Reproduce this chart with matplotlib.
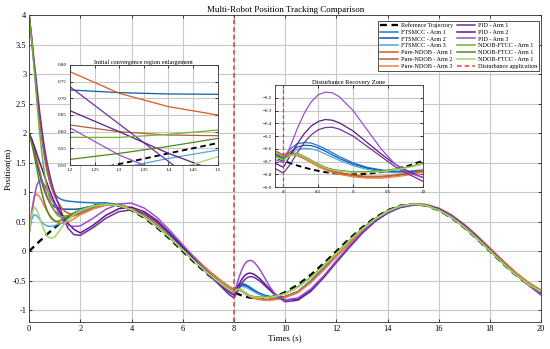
import matplotlib.pyplot as plt

plt.rcParams['font.family'] = ['Liberation Serif', 'DejaVu Serif']

# time grid (s): dense in the start transient and after the disturbance
t = [0, 0.1, 0.2, 0.3, 0.4, 0.5, 0.6, 0.7, 0.8, 0.9, 1.0, 1.1, 1.2, 1.3, 1.4, 1.5, 1.75, 2.0,
     2.5, 3.0, 3.5, 4.0, 4.5, 5.0, 5.5, 6.0, 6.5, 7.0, 7.5,
     7.8, 8.0,
     8.1, 8.2, 8.3, 8.4, 8.5, 8.6, 8.7, 8.8, 9.0, 9.2, 9.4, 9.6, 9.8, 10.0,
     10.5, 11, 11.5, 12, 12.5, 13, 13.5, 14, 14.5, 15, 15.5, 16, 16.5, 17, 17.5, 18, 18.5, 19, 19.5, 20]

ref = [0.000, 0.042, 0.084, 0.125, 0.167, 0.207, 0.247, 0.286, 0.325, 0.363, 0.400, 0.436, 0.470, 0.503, 0.535, 0.566, 0.636, 0.693,
       0.773, 0.800, 0.773, 0.693, 0.566, 0.400, 0.207, 0.000, -0.207, -0.400, -0.566,
       -0.647, -0.693,
       -0.713, -0.731, -0.747, -0.761, -0.773, -0.783, -0.790, -0.796, -0.800, -0.796, -0.783, -0.761, -0.731, -0.693,
       -0.566, -0.400, -0.207, 0.000, 0.207, 0.400, 0.566, 0.693, 0.773, 0.800, 0.773, 0.693, 0.566, 0.400, 0.207, 0.000, -0.207, -0.400, -0.566, -0.693]

ftsmcc_1 = [4.00, 3.55, 3.10, 2.65, 2.25, 1.90, 1.60, 1.35, 1.18, 1.05, 0.97, 0.92, 0.89, 0.87, 0.86, 0.85, 0.84, 0.83,
            0.82, 0.82, 0.79, 0.715, 0.595, 0.436, 0.247, 0.042, -0.166, -0.363, -0.535,
            -0.62, -0.665,
            -0.60, -0.56, -0.55, -0.555, -0.575, -0.60, -0.63, -0.66, -0.71, -0.745, -0.765, -0.775, -0.775, -0.765,
            -0.68, -0.50, -0.29, -0.07, 0.15, 0.36, 0.54, 0.68, 0.77, 0.80, 0.785, 0.715, 0.595, 0.435, 0.245, 0.04, -0.17, -0.37, -0.54, -0.67]
ftsmcc_2 = [2.00, 1.85, 1.68, 1.50, 1.32, 1.16, 1.02, 0.91, 0.83, 0.78, 0.75, 0.735, 0.725, 0.717, 0.713, 0.712, 0.71, 0.72,
            0.765, 0.80, 0.785, 0.713, 0.595, 0.436, 0.247, 0.042, -0.166, -0.363, -0.535,
            -0.625, -0.675,
            -0.625, -0.585, -0.572, -0.575, -0.592, -0.618, -0.647, -0.675, -0.72, -0.752, -0.77, -0.78, -0.782, -0.772,
            -0.685, -0.505, -0.295, -0.075, 0.145, 0.355, 0.535, 0.675, 0.765, 0.80, 0.785, 0.715, 0.595, 0.435, 0.245, 0.04, -0.17, -0.37, -0.54, -0.67]
ftsmcc_3 = [0.30, 0.55, 0.62, 0.60, 0.55, 0.49, 0.45, 0.43, 0.42, 0.425, 0.435, 0.45, 0.465, 0.49, 0.52, 0.545, 0.61, 0.67,
            0.75, 0.795, 0.785, 0.713, 0.595, 0.436, 0.247, 0.042, -0.166, -0.363, -0.535,
            -0.63, -0.685,
            -0.64, -0.605, -0.595, -0.60, -0.615, -0.64, -0.665, -0.69, -0.732, -0.762, -0.78, -0.788, -0.79, -0.78,
            -0.69, -0.51, -0.30, -0.08, 0.14, 0.35, 0.53, 0.67, 0.76, 0.795, 0.785, 0.715, 0.595, 0.435, 0.245, 0.04, -0.17, -0.37, -0.54, -0.67]

pure_ndob_1 = [4.00, 3.60, 3.15, 2.70, 2.30, 1.95, 1.65, 1.40, 1.20, 1.05, 0.93, 0.85, 0.78, 0.715, 0.675, 0.65, 0.62, 0.63,
               0.72, 0.785, 0.79, 0.731, 0.622, 0.47, 0.287, 0.084, -0.125, -0.326, -0.503,
               -0.594, -0.647,
               -0.625, -0.64, -0.665, -0.695, -0.725, -0.75, -0.77, -0.785, -0.805, -0.815, -0.815, -0.805, -0.79, -0.77,
               -0.69, -0.52, -0.31, -0.08, 0.14, 0.35, 0.53, 0.67, 0.76, 0.80, 0.79, 0.725, 0.61, 0.45, 0.26, 0.05, -0.16, -0.36, -0.53, -0.66]
pure_ndob_2 = [2.00, 1.87, 1.72, 1.55, 1.38, 1.21, 1.06, 0.93, 0.82, 0.74, 0.68, 0.645, 0.62, 0.60, 0.59, 0.588, 0.60, 0.64,
               0.735, 0.79, 0.79, 0.731, 0.622, 0.47, 0.287, 0.084, -0.125, -0.326, -0.503,
               -0.597, -0.652,
               -0.632, -0.648, -0.672, -0.702, -0.732, -0.758, -0.778, -0.792, -0.812, -0.822, -0.822, -0.812, -0.797, -0.777,
               -0.695, -0.525, -0.315, -0.085, 0.135, 0.345, 0.525, 0.665, 0.758, 0.80, 0.79, 0.725, 0.61, 0.45, 0.26, 0.05, -0.16, -0.36, -0.53, -0.665]
pure_ndob_3 = [0.30, 0.70, 0.92, 0.97, 0.93, 0.85, 0.76, 0.68, 0.61, 0.56, 0.52, 0.49, 0.48, 0.47, 0.475, 0.49, 0.55, 0.62,
               0.72, 0.78, 0.785, 0.731, 0.622, 0.47, 0.287, 0.084, -0.125, -0.326, -0.503,
               -0.60, -0.657,
               -0.638, -0.655, -0.68, -0.71, -0.74, -0.765, -0.785, -0.80, -0.82, -0.83, -0.83, -0.82, -0.805, -0.785,
               -0.70, -0.53, -0.32, -0.09, 0.13, 0.34, 0.52, 0.66, 0.755, 0.795, 0.79, 0.725, 0.61, 0.45, 0.26, 0.05, -0.16, -0.36, -0.53, -0.665]

pid_1 = [4.00, 3.62, 3.20, 2.80, 2.40, 2.05, 1.75, 1.50, 1.30, 1.12, 0.98, 0.85, 0.735, 0.623, 0.511, 0.40, 0.28, 0.27,
         0.40, 0.56, 0.67, 0.70, 0.64, 0.49, 0.29, 0.06, -0.17, -0.39, -0.60,
         -0.73, -0.79,
         -0.72, -0.63, -0.55, -0.49, -0.45, -0.433, -0.43, -0.445, -0.50, -0.58, -0.66, -0.74, -0.80, -0.855,
         -0.83, -0.68, -0.45, -0.19, 0.06, 0.30, 0.50, 0.645, 0.74, 0.78, 0.78, 0.72, 0.605, 0.44, 0.245, 0.03, -0.185, -0.39, -0.57, -0.74]
pid_2 = [2.00, 1.90, 1.78, 1.65, 1.52, 1.40, 1.27, 1.15, 1.03, 0.92, 0.82, 0.74, 0.663, 0.60, 0.535, 0.48, 0.37, 0.31,
         0.44, 0.61, 0.72, 0.745, 0.67, 0.52, 0.31, 0.08, -0.15, -0.37, -0.58,
         -0.69, -0.745,
         -0.65, -0.56, -0.48, -0.42, -0.385, -0.37, -0.375, -0.395, -0.46, -0.55, -0.64, -0.72, -0.78, -0.825,
         -0.81, -0.66, -0.43, -0.17, 0.08, 0.31, 0.51, 0.655, 0.745, 0.785, 0.78, 0.72, 0.60, 0.435, 0.24, 0.025, -0.19, -0.39, -0.57, -0.735]
pid_3 = [0.30, 0.62, 0.92, 1.12, 1.20, 1.18, 1.12, 1.04, 0.95, 0.86, 0.78, 0.70, 0.612, 0.53, 0.47, 0.44, 0.42, 0.43,
         0.56, 0.71, 0.80, 0.815, 0.73, 0.57, 0.35, 0.11, -0.13, -0.36, -0.565,
         -0.665, -0.71,
         -0.58, -0.44, -0.32, -0.23, -0.175, -0.155, -0.16, -0.19, -0.30, -0.45, -0.60, -0.72, -0.79, -0.825,
         -0.79, -0.64, -0.42, -0.16, 0.09, 0.32, 0.52, 0.66, 0.75, 0.785, 0.775, 0.71, 0.595, 0.43, 0.235, 0.02, -0.195, -0.395, -0.57, -0.725]

ndob_ftcc_1 = [4.00, 3.58, 3.10, 2.55, 2.05, 1.65, 1.32, 1.07, 0.89, 0.76, 0.67, 0.61, 0.583, 0.583, 0.592, 0.605, 0.65, 0.70,
               0.77, 0.80, 0.778, 0.703, 0.58, 0.418, 0.227, 0.021, -0.186, -0.382, -0.551,
               -0.64, -0.68,
               -0.645, -0.635, -0.66, -0.69, -0.72, -0.745, -0.76, -0.77, -0.78, -0.78, -0.775, -0.76, -0.74, -0.715,
               -0.60, -0.44, -0.24, -0.03, 0.18, 0.38, 0.55, 0.685, 0.77, 0.80, 0.775, 0.695, 0.57, 0.405, 0.21, 0.005, -0.20, -0.395, -0.56, -0.68]
ndob_ftcc_2 = [2.00, 1.83, 1.62, 1.40, 1.18, 0.98, 0.82, 0.69, 0.60, 0.54, 0.51, 0.505, 0.517, 0.535, 0.556, 0.58, 0.64, 0.69,
               0.765, 0.80, 0.778, 0.703, 0.58, 0.418, 0.227, 0.021, -0.186, -0.382, -0.551,
               -0.642, -0.685,
               -0.648, -0.638, -0.662, -0.692, -0.722, -0.747, -0.762, -0.772, -0.782, -0.782, -0.777, -0.762, -0.742, -0.717,
               -0.605, -0.445, -0.245, -0.035, 0.175, 0.375, 0.545, 0.68, 0.768, 0.80, 0.775, 0.695, 0.57, 0.405, 0.21, 0.005, -0.20, -0.395, -0.56, -0.68]
ndob_ftcc_3 = [0.30, 0.62, 0.75, 0.70, 0.58, 0.45, 0.34, 0.26, 0.23, 0.22, 0.245, 0.30, 0.36, 0.42, 0.48, 0.525, 0.62, 0.69,
               0.765, 0.795, 0.775, 0.703, 0.58, 0.418, 0.227, 0.021, -0.186, -0.382, -0.551,
               -0.645, -0.69,
               -0.652, -0.642, -0.665, -0.695, -0.725, -0.75, -0.765, -0.775, -0.785, -0.785, -0.78, -0.765, -0.745, -0.72,
               -0.61, -0.45, -0.25, -0.04, 0.17, 0.37, 0.54, 0.675, 0.765, 0.80, 0.775, 0.695, 0.57, 0.405, 0.21, 0.005, -0.20, -0.395, -0.56, -0.68]

series = [
    (ftsmcc_1, '#1f78c8', 'FTSMCC - Arm 1'),
    (ftsmcc_2, '#0d5aa7', 'FTSMCC - Arm 2'),
    (ftsmcc_3, '#4ea6e2', 'FTSMCC - Arm 3'),
    (pure_ndob_1, '#db5a1c', 'Pure-NDOB - Arm 1'),
    (pure_ndob_2, '#b0603a', 'Pure-NDOB - Arm 2'),
    (pure_ndob_3, '#f2803f', 'Pure-NDOB - Arm 3'),
    (pid_1, '#7030a0', 'PID - Arm 1'),
    (pid_2, '#5a1a8a', 'PID - Arm 2'),
    (pid_3, '#9a4fd0', 'PID - Arm 3'),
    (ndob_ftcc_1, '#74b030', 'NDOB-FTCC - Arm 1'),
    (ndob_ftcc_2, '#4d8a1c', 'NDOB-FTCC - Arm 1'),
    (ndob_ftcc_3, '#a5d56a', 'NDOB-FTCC - Arm 1'),
]
dist_time = 8
dist_color = '#e03c3c'


def draw_lines(a, lw):
    a.plot(t, ref, color='black', lw=lw * 1.5, dashes=(3, 2), label='Reference Trajectory')
    for ys, c, lab in series:
        a.plot(t, ys, color=c, lw=lw, label=lab)
    a.axvline(dist_time, color=dist_color, lw=lw, dashes=(3, 2), label='Disturbance application')


def style(a, fs):
    a.grid(True, color='#c8c8c8', lw=0.8)
    a.set_axisbelow(True)
    a.tick_params(direction='in', top=True, right=True, labelsize=fs, length=2.5, width=0.5, pad=2)
    for s in a.spines.values():
        s.set_linewidth(0.6)
        s.set_color('#333333')


fig = plt.figure(figsize=(5.5, 3.49), dpi=100)

ax = fig.add_axes([0.053, 0.077, 0.931, 0.880])
draw_lines(ax, 1.1)
ax.set_xlim(0, 20)
ax.set_ylim(-1.2, 4)
ax.set_xticks(range(0, 21, 2))
ax.set_yticks([-1, -0.5, 0, 0.5, 1, 1.5, 2, 2.5, 3, 3.5, 4])
ax.set_yticklabels(['-1', '-0.5', '0', '0.5', '1', '1.5', '2', '2.5', '3', '3.5', '4'])
style(ax, 6)
ax.set_title('Multi-Robot Position Tracking Comparison', fontsize=6.5, pad=2)
ax.set_xlabel('Times (s)', fontsize=6.5, labelpad=1)
ax.set_ylabel('Position(m)', fontsize=6.5, labelpad=1)
leg = ax.legend(loc='upper right', bbox_to_anchor=(0.995, 0.982), ncol=2, fontsize=4.4,
                handlelength=3.0, handletextpad=0.4, columnspacing=0.6, labelspacing=0.25,
                borderpad=0.3, borderaxespad=0, fancybox=False, framealpha=1)
leg.get_frame().set_edgecolor('#333333')
leg.get_frame().set_linewidth(0.6)

# inset: initial convergence
ax1 = fig.add_axes([0.127, 0.527, 0.269, 0.287])
draw_lines(ax1, 0.9)
ax1.set_xlim(1.2, 1.5)
ax1.set_ylim(0.5, 0.8)
ax1.set_xticks([1.2, 1.25, 1.3, 1.35, 1.4, 1.45, 1.5])
ax1.set_xticklabels(['1.2', '1.25', '1.3', '1.35', '1.4', '1.45', '1.5'])
ax1.set_yticks([0.5, 0.55, 0.6, 0.65, 0.7, 0.75, 0.8])
ax1.set_yticklabels(['0.50', '0.55', '0.60', '0.65', '0.70', '0.75', '0.80'])
style(ax1, 3.6)
ax1.set_title('Initial convergence region enlargement', fontsize=4.5, pad=1)

# inset: disturbance recovery
ax2 = fig.add_axes([0.5, 0.464, 0.269, 0.292])
draw_lines(ax2, 0.9)
ax2.set_xlim(7.88, 10)
ax2.set_ylim(-0.9, -0.1)
ax2.set_xticks([8, 8.5, 9, 9.5, 10])
ax2.set_xticklabels(['8', '8.5', '9', '9.5', '10'])
ax2.set_yticks([-0.9, -0.8, -0.7, -0.6, -0.5, -0.4, -0.3, -0.2])
style(ax2, 3.6)
ax2.set_title('Disturbance Recovery Zone', fontsize=4.7, pad=1)

fig.savefig('out.png', dpi=100)
